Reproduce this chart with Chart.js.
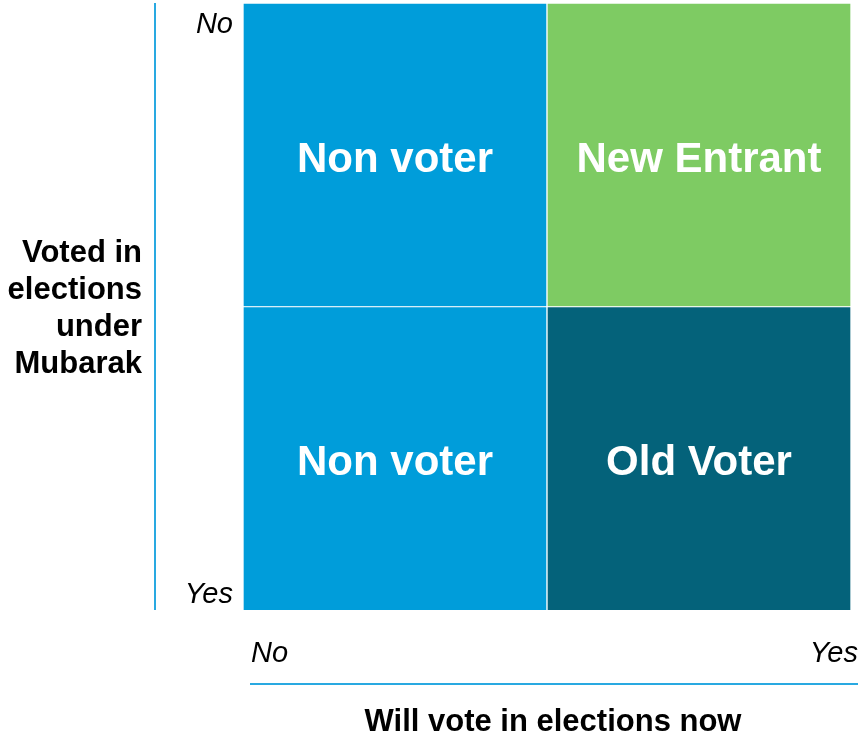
<!DOCTYPE html>
<html>
<head>
<meta charset="utf-8">
<script src="https://cdn.jsdelivr.net/npm/chart.js@4"></script>
<style>
  html, body { margin: 0; padding: 0; background: #ffffff; }
  #wrap { position: relative; width: 860px; height: 736px; }
</style>
</head>
<body>
<div id="wrap"><canvas id="matrixChart"></canvas></div>
<script>
// --- DATA ---
const xCategories = ['No', 'Yes'];           // Will vote in elections now
const yCategories = ['Yes', 'No'];           // Voted under Mubarak (bottom -> top)
const bottomRowValues = [1, 1];
const topRowValues = [1, 1];
const bottomRowNames = ['Non voter', 'Old Voter'];
const topRowNames = ['Non voter', 'New Entrant'];
const bottomRowColors = ['#009DDA', '#04627A'];
const topRowColors = ['#009DDA', '#7ECB63'];
const xTitle = 'Will vote in elections now';
const yTitleLines = ['Voted in', 'elections', 'under', 'Mubarak'];

const FONT = 'Arial, "Liberation Sans", Helvetica, sans-serif';
const LINE_BLUE = '#29A9E1';

// draws cell names, corner labels, axis lines and titles
const matrixDecor = {
    id: 'matrixDecor',
    afterDatasetsDraw(chart) {
        const ctx = chart.ctx;
        const area = chart.chartArea;
        ctx.save();

        // cell names
        ctx.fillStyle = '#ffffff';
        ctx.font = 'bold 42px ' + FONT;
        ctx.textAlign = 'center';
        ctx.textBaseline = 'alphabetic';
        chart.data.datasets.forEach((ds, di) => {
            chart.getDatasetMeta(di).data.forEach((bar, i) => {
                const cy = (bar.y + bar.base) / 2;
                ctx.fillText(ds.names[i], bar.x, cy + 17);
            });
        });

        // axis lines
        ctx.strokeStyle = LINE_BLUE;
        ctx.lineWidth = 2;
        ctx.beginPath();
        ctx.moveTo(155, area.top);
        ctx.lineTo(155, area.bottom);
        ctx.stroke();
        ctx.beginPath();
        ctx.moveTo(250, 684);
        ctx.lineTo(858, 684);
        ctx.stroke();

        // corner labels
        ctx.fillStyle = '#000000';
        ctx.font = 'italic 29px ' + FONT;
        ctx.textAlign = 'right';
        ctx.fillText(yCategories[1], 233, 33);
        ctx.fillText(yCategories[0], 233, 603);
        ctx.textAlign = 'left';
        ctx.fillText(xCategories[0], 251, 662);
        ctx.textAlign = 'right';
        ctx.fillText(xCategories[1], 858, 662);

        // titles
        ctx.font = 'bold 31px ' + FONT;
        ctx.textAlign = 'right';
        yTitleLines.forEach((line, i) => {
            ctx.fillText(line, 142, 262 + i * 37);
        });
        ctx.textAlign = 'center';
        ctx.font = 'bold 31px ' + FONT;
        ctx.fillText(xTitle, 553, 731);

        ctx.restore();
    }
};

new Chart(document.getElementById('matrixChart').getContext('2d'), {
    type: 'bar',
    data: {
        labels: xCategories,
        datasets: [
            { label: yCategories[0], data: bottomRowValues, names: bottomRowNames, backgroundColor: bottomRowColors,
              borderColor: '#ffffff', borderWidth: 1, categoryPercentage: 1, barPercentage: 1 },
            { label: yCategories[1], data: topRowValues, names: topRowNames, backgroundColor: topRowColors,
              borderColor: '#ffffff', borderWidth: 1, categoryPercentage: 1, barPercentage: 1 }
        ]
    },
    options: {
        responsive: true,
        maintainAspectRatio: false,
        animation: false,
        layout: { padding: { left: 243, right: 9, top: 3, bottom: 126 } },
        scales: {
            x: { display: false, stacked: true, offset: true },
            y: { display: false, stacked: true, min: 0, max: 2 }
        },
        plugins: { legend: { display: false }, tooltip: { enabled: false } }
    },
    plugins: [matrixDecor]
});
</script>
</body>
</html>
